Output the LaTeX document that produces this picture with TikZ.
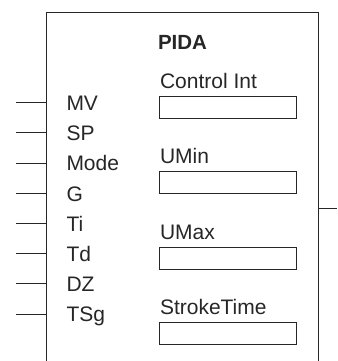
\documentclass[tikz,border=0pt]{standalone}
\usepackage{fontspec}
\setmainfont{Liberation Sans}
\usetikzlibrary{positioning}
\definecolor{fbdgray}{HTML}{262626}

\begin{document}
\begin{tikzpicture}[x=1pt,y=-1pt,line width=1pt,
    block/.style={draw=fbdgray,minimum width=272pt,minimum height=420pt,inner sep=0pt,anchor=north west},
    lbl/.style={anchor=base west,inner sep=0pt,text=fbdgray,font=\fontsize{21}{24}\selectfont},
    field/.style={draw=fbdgray,minimum width=137pt,minimum height=22pt,inner sep=0pt,anchor=north west}]
      \useasboundingbox (0,0) rectangle (337,361);
      \clip (0,0) rectangle (337,361);

      % function block
      \node[block] (pida) at (46,11.7) {};
      \node[lbl, anchor=base, font=\fontsize{20.5}{24}\selectfont\bfseries] (title) at (182.5,49.5) {PIDA};

      % inputs
      \coordinate (inMV) at (16,102.7);
      \coordinate (inSP) at (16,132.9);
      \coordinate (inMode) at (16,163.1);
      \coordinate (inG) at (16,193.3);
      \coordinate (inTi) at (16,223.5);
      \coordinate (inTd) at (16,253.7);
      \coordinate (inDZ) at (16,283.9);
      \coordinate (inTSg) at (16,314.1);
      \draw[fbdgray] (inMV) -- (inMV -| pida.west);
      \draw[fbdgray] (inSP) -- (inSP -| pida.west);
      \draw[fbdgray] (inMode) -- (inMode -| pida.west);
      \draw[fbdgray] (inG) -- (inG -| pida.west);
      \draw[fbdgray] (inTi) -- (inTi -| pida.west);
      \draw[fbdgray] (inTd) -- (inTd -| pida.west);
      \draw[fbdgray] (inDZ) -- (inDZ -| pida.west);
      \draw[fbdgray] (inTSg) -- (inTSg -| pida.west);

      \node[lbl] (lMV) at (66,110.4) {MV};
      \node[lbl] (lSP) at (66,140.6) {SP};
      \node[lbl] (lMode) at (66,170.8) {Mode};
      \node[lbl] (lG) at (66,201) {G};
      \node[lbl] (lTi) at (66,231.2) {Ti};
      \node[lbl] (lTd) at (66,261.4) {Td};
      \node[lbl] (lDZ) at (66,291.6) {DZ};
      \node[lbl] (lTSg) at (66,321.8) {TSg};

      % output
      \coordinate (out) at (337,208);
      \draw[fbdgray] (pida.east |- out) -- (out);

      % parameters
      \node[field] (fCtrl) at (159,96) {};
      \node[field] (fUMin) at (159,171.3) {};
      \node[field] (fUMax) at (159,246.6) {};
      \node[field] (fStroke) at (159,322) {};
      \node[lbl] (lCtrl) at (159.5,88.5) {Control Int};
      \node[lbl] (lUMin) at (159.5,163.8) {UMin};
      \node[lbl] (lUMax) at (159.5,239.1) {UMax};
      \node[lbl] (lStroke) at (159.5,314.5) {StrokeTime};
\end{tikzpicture}
\end{document}
